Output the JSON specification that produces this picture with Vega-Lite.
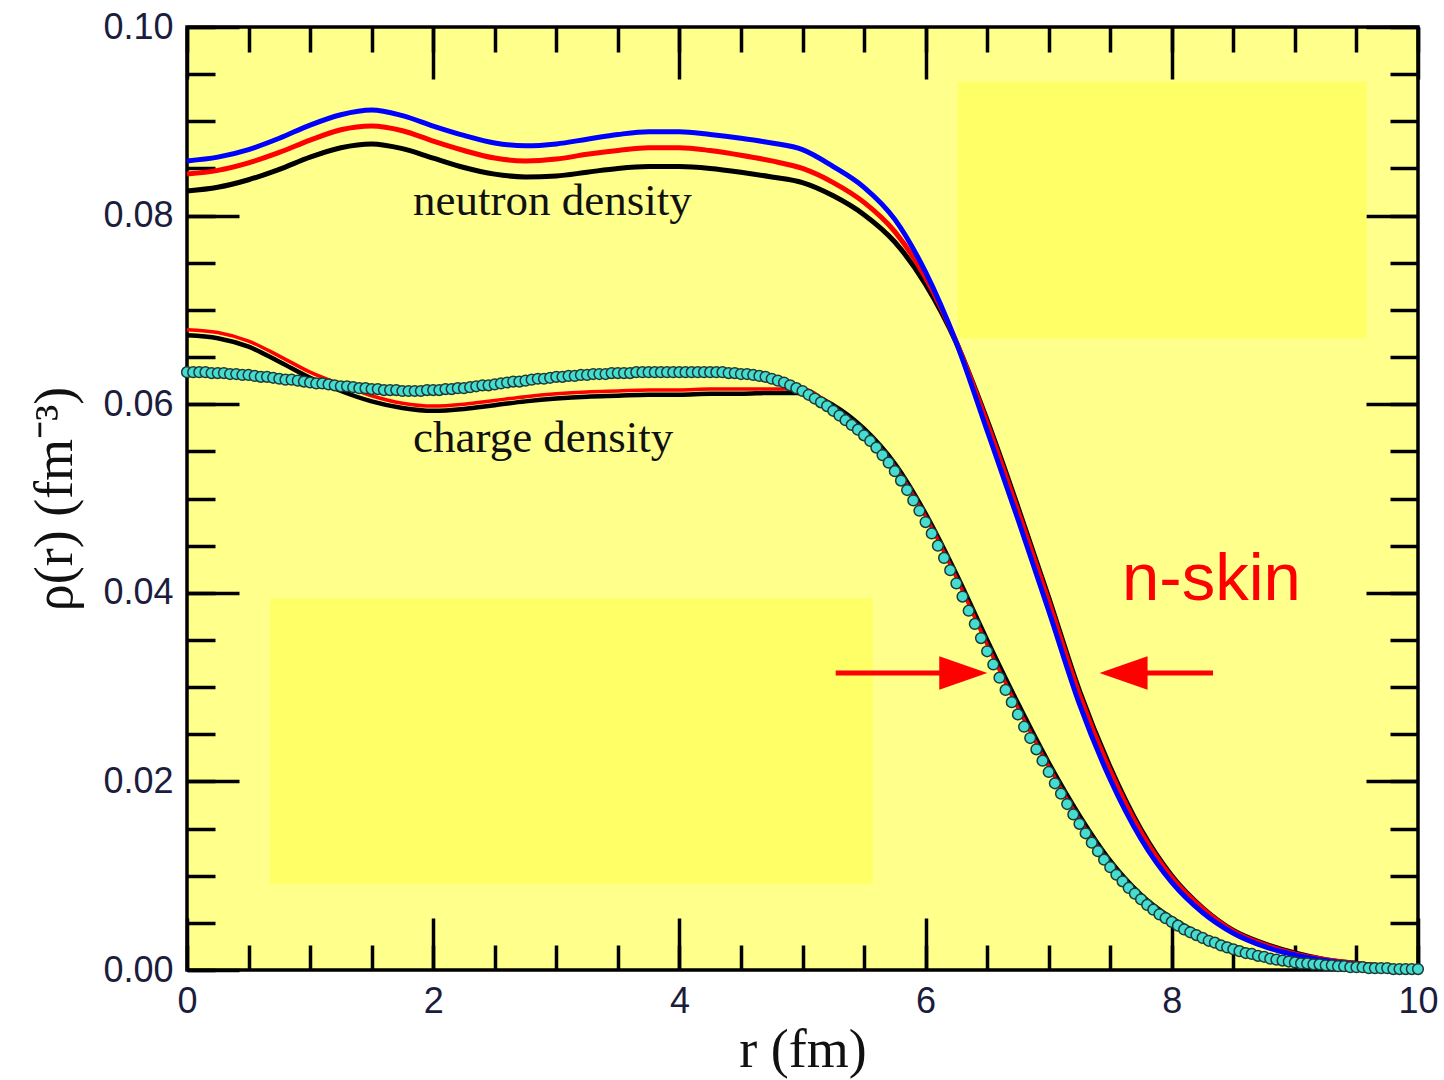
{
  "$schema": "https://vega.github.io/schema/vega-lite/v6.json",
  "width": 1231,
  "height": 943,
  "autosize": {"type": "none"},
  "padding": {"left": 187, "top": 27, "right": 26, "bottom": 110},
  "background": "white",
  "config": {
    "view": {"fill": "#FFFF8C", "stroke": "#000000", "strokeWidth": 3.5},
    "axis": {"grid": false, "domain": false, "zindex": 1, "tickColor": "#000000", "tickWidth": 3.5, "labelFlush": false, "labelOverlap": false}
  },
  "datasets": {
    "rects": [
      {"x1": 6.26, "x2": 9.58, "y1": 0.067, "y2": 0.0942},
      {"x1": 0.674, "x2": 5.57, "y1": 0.0091, "y2": 0.0394}
    ],
    "lines": [
      {"r": 0.00, "nk": 0.0826, "nr": 0.0844, "nb": 0.0858, "ck": 0.0673, "cr": 0.0679},
      {"r": 0.25, "nk": 0.0830, "nr": 0.0848, "nb": 0.0862, "ck": 0.0670, "cr": 0.0676},
      {"r": 0.50, "nk": 0.0838, "nr": 0.0856, "nb": 0.0870, "ck": 0.0661, "cr": 0.0667},
      {"r": 0.75, "nk": 0.0849, "nr": 0.0867, "nb": 0.0882, "ck": 0.0645, "cr": 0.0651},
      {"r": 1.00, "nk": 0.0862, "nr": 0.0880, "nb": 0.0896, "ck": 0.0628, "cr": 0.0634},
      {"r": 1.25, "nk": 0.0872, "nr": 0.0891, "nb": 0.0907, "ck": 0.0614, "cr": 0.0621},
      {"r": 1.50, "nk": 0.0876, "nr": 0.0895, "nb": 0.0912, "ck": 0.0603, "cr": 0.0609},
      {"r": 1.75, "nk": 0.0871, "nr": 0.0890, "nb": 0.0906, "ck": 0.0596, "cr": 0.0601},
      {"r": 2.00, "nk": 0.0861, "nr": 0.0879, "nb": 0.0895, "ck": 0.0593, "cr": 0.0598},
      {"r": 2.25, "nk": 0.0851, "nr": 0.0869, "nb": 0.0885, "ck": 0.0595, "cr": 0.0600},
      {"r": 2.50, "nk": 0.0844, "nr": 0.0861, "nb": 0.0877, "ck": 0.0599, "cr": 0.0604},
      {"r": 2.75, "nk": 0.0841, "nr": 0.0858, "nb": 0.0874, "ck": 0.0603, "cr": 0.0608},
      {"r": 3.00, "nk": 0.0842, "nr": 0.0860, "nb": 0.0876, "ck": 0.0606, "cr": 0.0611},
      {"r": 3.25, "nk": 0.0846, "nr": 0.0865, "nb": 0.0881, "ck": 0.0608, "cr": 0.0613},
      {"r": 3.50, "nk": 0.0850, "nr": 0.0869, "nb": 0.0886, "ck": 0.0609, "cr": 0.0614},
      {"r": 3.75, "nk": 0.0852, "nr": 0.0872, "nb": 0.0889, "ck": 0.0610, "cr": 0.0615},
      {"r": 4.00, "nk": 0.0852, "nr": 0.0872, "nb": 0.0889, "ck": 0.0610, "cr": 0.0615},
      {"r": 4.25, "nk": 0.0850, "nr": 0.0869, "nb": 0.0886, "ck": 0.0611, "cr": 0.0616},
      {"r": 4.50, "nk": 0.0846, "nr": 0.0864, "nb": 0.0882, "ck": 0.0611, "cr": 0.0616},
      {"r": 4.75, "nk": 0.0841, "nr": 0.0858, "nb": 0.0877, "ck": 0.0612, "cr": 0.0616},
      {"r": 5.00, "nk": 0.0835, "nr": 0.0850, "nb": 0.0870, "ck": 0.0612, "cr": 0.0616},
      {"r": 5.25, "nk": 0.0821, "nr": 0.0835, "nb": 0.0852, "ck": 0.0599, "cr": 0.0597},
      {"r": 5.50, "nk": 0.0801, "nr": 0.0814, "nb": 0.0830, "ck": 0.0574, "cr": 0.0571},
      {"r": 5.75, "nk": 0.0772, "nr": 0.0783, "nb": 0.0796, "ck": 0.0537, "cr": 0.0534},
      {"r": 6.00, "nk": 0.0727, "nr": 0.0734, "nb": 0.0740, "ck": 0.0484, "cr": 0.0481},
      {"r": 6.25, "nk": 0.0665, "nr": 0.0666, "nb": 0.0665, "ck": 0.0420, "cr": 0.0416},
      {"r": 6.50, "nk": 0.0583, "nr": 0.0580, "nb": 0.0572, "ck": 0.0350, "cr": 0.0345},
      {"r": 6.75, "nk": 0.0491, "nr": 0.0487, "nb": 0.0478, "ck": 0.0283, "cr": 0.0278},
      {"r": 7.00, "nk": 0.0395, "nr": 0.0391, "nb": 0.0381, "ck": 0.0220, "cr": 0.0216},
      {"r": 7.25, "nk": 0.0296, "nr": 0.0292, "nb": 0.0282, "ck": 0.0164, "cr": 0.0160},
      {"r": 7.50, "nk": 0.0215, "nr": 0.0211, "nb": 0.0202, "ck": 0.0116, "cr": 0.0113},
      {"r": 7.75, "nk": 0.0149, "nr": 0.0146, "nb": 0.0139, "ck": 0.0080, "cr": 0.0078},
      {"r": 8.00, "nk": 0.0100, "nr": 0.0098, "nb": 0.0093, "ck": 0.0055, "cr": 0.0053},
      {"r": 8.25, "nk": 0.0066, "nr": 0.0065, "nb": 0.0061, "ck": 0.0037, "cr": 0.0036},
      {"r": 8.50, "nk": 0.0042, "nr": 0.0041, "nb": 0.0039, "ck": 0.0025, "cr": 0.0024},
      {"r": 8.75, "nk": 0.0028, "nr": 0.0027, "nb": 0.0025, "ck": 0.0016, "cr": 0.0015},
      {"r": 9.00, "nk": 0.0018, "nr": 0.0017, "nb": 0.0016, "ck": 0.0010, "cr": 0.0009},
      {"r": 9.25, "nk": 0.0011, "nr": 0.0011, "nb": 0.0010, "ck": 0.0006, "cr": 0.0006},
      {"r": 9.50, "nk": 0.0007, "nr": 0.0007, "nb": 0.0006, "ck": 0.0004, "cr": 0.0004},
      {"r": 9.75, "nk": 0.0004, "nr": 0.0004, "nb": 0.0004, "ck": 0.0002, "cr": 0.0002},
      {"r": 10.00, "nk": 0.0003, "nr": 0.0003, "nb": 0.0003, "ck": 0.0001, "cr": 0.0001}
    ],
    "teal": [
      {"r": 0.00, "v": 0.0634}, {"r": 0.05, "v": 0.0634}, {"r": 0.10, "v": 0.0634}, {"r": 0.15, "v": 0.0634},
      {"r": 0.20, "v": 0.0633}, {"r": 0.25, "v": 0.0633}, {"r": 0.30, "v": 0.0633}, {"r": 0.35, "v": 0.0632},
      {"r": 0.40, "v": 0.0632}, {"r": 0.45, "v": 0.0631}, {"r": 0.50, "v": 0.0631}, {"r": 0.55, "v": 0.0630},
      {"r": 0.60, "v": 0.0629}, {"r": 0.65, "v": 0.0629}, {"r": 0.70, "v": 0.0628}, {"r": 0.75, "v": 0.0627},
      {"r": 0.80, "v": 0.0626}, {"r": 0.85, "v": 0.0626}, {"r": 0.90, "v": 0.0625}, {"r": 0.95, "v": 0.0624},
      {"r": 1.00, "v": 0.0623}, {"r": 1.05, "v": 0.0622}, {"r": 1.10, "v": 0.0622}, {"r": 1.15, "v": 0.0621},
      {"r": 1.20, "v": 0.0620}, {"r": 1.25, "v": 0.0619}, {"r": 1.30, "v": 0.0619}, {"r": 1.35, "v": 0.0618},
      {"r": 1.40, "v": 0.0617}, {"r": 1.45, "v": 0.0617}, {"r": 1.50, "v": 0.0616}, {"r": 1.55, "v": 0.0616},
      {"r": 1.60, "v": 0.0615}, {"r": 1.65, "v": 0.0615}, {"r": 1.70, "v": 0.0615}, {"r": 1.75, "v": 0.0614},
      {"r": 1.80, "v": 0.0614}, {"r": 1.85, "v": 0.0614}, {"r": 1.90, "v": 0.0614}, {"r": 1.95, "v": 0.0615},
      {"r": 2.00, "v": 0.0615}, {"r": 2.05, "v": 0.0615}, {"r": 2.10, "v": 0.0616}, {"r": 2.15, "v": 0.0616},
      {"r": 2.20, "v": 0.0617}, {"r": 2.25, "v": 0.0617}, {"r": 2.30, "v": 0.0618}, {"r": 2.35, "v": 0.0619},
      {"r": 2.40, "v": 0.0620}, {"r": 2.45, "v": 0.0620}, {"r": 2.50, "v": 0.0621}, {"r": 2.55, "v": 0.0622},
      {"r": 2.60, "v": 0.0623}, {"r": 2.65, "v": 0.0624}, {"r": 2.70, "v": 0.0624}, {"r": 2.75, "v": 0.0625},
      {"r": 2.80, "v": 0.0626}, {"r": 2.85, "v": 0.0627}, {"r": 2.90, "v": 0.0627}, {"r": 2.95, "v": 0.0628},
      {"r": 3.00, "v": 0.0629}, {"r": 3.05, "v": 0.0629}, {"r": 3.10, "v": 0.0630}, {"r": 3.15, "v": 0.0630},
      {"r": 3.20, "v": 0.0631}, {"r": 3.25, "v": 0.0631}, {"r": 3.30, "v": 0.0632}, {"r": 3.35, "v": 0.0632},
      {"r": 3.40, "v": 0.0632}, {"r": 3.45, "v": 0.0633}, {"r": 3.50, "v": 0.0633}, {"r": 3.55, "v": 0.0633},
      {"r": 3.60, "v": 0.0633}, {"r": 3.65, "v": 0.0634}, {"r": 3.70, "v": 0.0634}, {"r": 3.75, "v": 0.0634},
      {"r": 3.80, "v": 0.0634}, {"r": 3.85, "v": 0.0634}, {"r": 3.90, "v": 0.0634}, {"r": 3.95, "v": 0.0634},
      {"r": 4.00, "v": 0.0634}, {"r": 4.05, "v": 0.0634}, {"r": 4.10, "v": 0.0634}, {"r": 4.15, "v": 0.0634},
      {"r": 4.20, "v": 0.0634}, {"r": 4.25, "v": 0.0634}, {"r": 4.30, "v": 0.0634}, {"r": 4.35, "v": 0.0634},
      {"r": 4.40, "v": 0.0633}, {"r": 4.45, "v": 0.0633}, {"r": 4.50, "v": 0.0632}, {"r": 4.55, "v": 0.0632},
      {"r": 4.60, "v": 0.0631}, {"r": 4.65, "v": 0.0630}, {"r": 4.70, "v": 0.0629}, {"r": 4.75, "v": 0.0627},
      {"r": 4.80, "v": 0.0625}, {"r": 4.85, "v": 0.0623}, {"r": 4.90, "v": 0.0620}, {"r": 4.95, "v": 0.0617},
      {"r": 5.00, "v": 0.0614}, {"r": 5.05, "v": 0.0610}, {"r": 5.10, "v": 0.0606}, {"r": 5.15, "v": 0.0602},
      {"r": 5.20, "v": 0.0598}, {"r": 5.25, "v": 0.0593}, {"r": 5.30, "v": 0.0588}, {"r": 5.35, "v": 0.0583},
      {"r": 5.40, "v": 0.0578}, {"r": 5.45, "v": 0.0573}, {"r": 5.50, "v": 0.0567}, {"r": 5.55, "v": 0.0561},
      {"r": 5.60, "v": 0.0554}, {"r": 5.65, "v": 0.0546}, {"r": 5.70, "v": 0.0538}, {"r": 5.75, "v": 0.0529},
      {"r": 5.80, "v": 0.0519}, {"r": 5.85, "v": 0.0509}, {"r": 5.90, "v": 0.0498}, {"r": 5.95, "v": 0.0487},
      {"r": 6.00, "v": 0.0475}, {"r": 6.05, "v": 0.0463}, {"r": 6.10, "v": 0.0450}, {"r": 6.15, "v": 0.0437},
      {"r": 6.20, "v": 0.0424}, {"r": 6.25, "v": 0.0410}, {"r": 6.30, "v": 0.0396}, {"r": 6.35, "v": 0.0381},
      {"r": 6.40, "v": 0.0367}, {"r": 6.45, "v": 0.0352}, {"r": 6.50, "v": 0.0338}, {"r": 6.55, "v": 0.0324},
      {"r": 6.60, "v": 0.0310}, {"r": 6.65, "v": 0.0297}, {"r": 6.70, "v": 0.0284}, {"r": 6.75, "v": 0.0271},
      {"r": 6.80, "v": 0.0258}, {"r": 6.85, "v": 0.0246}, {"r": 6.90, "v": 0.0234}, {"r": 6.95, "v": 0.0222},
      {"r": 7.00, "v": 0.0210}, {"r": 7.05, "v": 0.0198}, {"r": 7.10, "v": 0.0187}, {"r": 7.15, "v": 0.0176},
      {"r": 7.20, "v": 0.0165}, {"r": 7.25, "v": 0.0155}, {"r": 7.30, "v": 0.0145}, {"r": 7.35, "v": 0.0135},
      {"r": 7.40, "v": 0.0126}, {"r": 7.45, "v": 0.0117}, {"r": 7.50, "v": 0.0109}, {"r": 7.55, "v": 0.0101},
      {"r": 7.60, "v": 0.0094}, {"r": 7.65, "v": 0.0087}, {"r": 7.70, "v": 0.0081}, {"r": 7.75, "v": 0.0075},
      {"r": 7.80, "v": 0.0069}, {"r": 7.85, "v": 0.0064}, {"r": 7.90, "v": 0.0059}, {"r": 7.95, "v": 0.0055},
      {"r": 8.00, "v": 0.0051}, {"r": 8.05, "v": 0.0047}, {"r": 8.10, "v": 0.0043}, {"r": 8.15, "v": 0.0040},
      {"r": 8.20, "v": 0.0037}, {"r": 8.25, "v": 0.0034}, {"r": 8.30, "v": 0.0031}, {"r": 8.35, "v": 0.0029},
      {"r": 8.40, "v": 0.0026}, {"r": 8.45, "v": 0.0024}, {"r": 8.50, "v": 0.0022}, {"r": 8.55, "v": 0.0020},
      {"r": 8.60, "v": 0.0018}, {"r": 8.65, "v": 0.0017}, {"r": 8.70, "v": 0.0015}, {"r": 8.75, "v": 0.0014},
      {"r": 8.80, "v": 0.0012}, {"r": 8.85, "v": 0.0011}, {"r": 8.90, "v": 0.0010}, {"r": 8.95, "v": 0.0009},
      {"r": 9.00, "v": 0.0008}, {"r": 9.05, "v": 0.0007}, {"r": 9.10, "v": 0.0007}, {"r": 9.15, "v": 0.0006},
      {"r": 9.20, "v": 0.0006}, {"r": 9.25, "v": 0.0005}, {"r": 9.30, "v": 0.0005}, {"r": 9.35, "v": 0.0004},
      {"r": 9.40, "v": 0.0004}, {"r": 9.45, "v": 0.0003}, {"r": 9.50, "v": 0.0003}, {"r": 9.55, "v": 0.0003},
      {"r": 9.60, "v": 0.0002}, {"r": 9.65, "v": 0.0002}, {"r": 9.70, "v": 0.0002}, {"r": 9.75, "v": 0.0002},
      {"r": 9.80, "v": 0.0001}, {"r": 9.85, "v": 0.0001}, {"r": 9.90, "v": 0.0001}, {"r": 9.95, "v": 0.0001},
      {"r": 10.00, "v": 0.0001}
    ],
    "labels": [
      {"r": 1.836, "v": 0.0801, "label": "neutron density"},
      {"r": 1.836, "v": 0.0549, "label": "charge density"}
    ],
    "skin": [
      {"r": 7.596, "v": 0.0392, "label": "n-skin"}
    ],
    "arrowlines": [
      {"x1": 5.27, "x2": 6.16, "y": 0.0315},
      {"x1": 7.74, "x2": 8.335, "y": 0.0315}
    ],
    "arrowheads": [
      {"x": 6.306, "y": 0.0315, "dir": "right"},
      {"x": 7.608, "y": 0.0315, "dir": "left"}
    ]
  },
  "resolve": {"axis": {"x": "independent", "y": "independent"}},
  "layer": [
    {
      "data": {"name": "rects"},
      "mark": {"type": "rect", "fill": "#FFFF66"},
      "encoding": {
        "x": {"field": "x1", "type": "quantitative", "scale": {"domain": [0, 10], "nice": false, "zero": false},
          "axis": {"orient": "bottom", "values": [0, 2, 4, 6, 8, 10], "tickSize": -52, "labelPadding": 66, "format": "d",
            "labelFont": "Liberation Sans", "labelFontSize": 36, "labelColor": "#1c1c3c",
            "title": "r (fm)", "titleFont": "Liberation Serif", "titleFontSize": 54, "titleFontWeight": "normal", "titleColor": "#111111", "titlePadding": 4}},
        "x2": {"field": "x2"},
        "y": {"field": "y1", "type": "quantitative", "scale": {"domain": [0, 0.1], "nice": false, "zero": false},
          "axis": {"orient": "left", "values": [0, 0.02, 0.04, 0.06, 0.08, 0.1], "tickSize": -52, "labelPadding": 66, "format": ".2f",
            "labelFont": "Liberation Sans", "labelFontSize": 36, "labelColor": "#1c1c3c",
            "title": "ρ(r) (fm⁻³)", "titleFont": "Liberation Serif", "titleFontSize": 54, "titleFontWeight": "normal", "titleColor": "#111111", "titlePadding": 20}},
        "y2": {"field": "y2"}
      }
    },
    {
      "data": {"name": "lines"},
      "mark": {"type": "line", "color": "#000000", "strokeWidth": 5, "interpolate": "monotone"},
      "encoding": {
        "x": {"field": "r", "type": "quantitative", "scale": {"domain": [0, 10], "nice": false, "zero": false},
          "axis": {"orient": "bottom", "values": [0, 0.5, 1, 1.5, 2, 2.5, 3, 3.5, 4, 4.5, 5, 5.5, 6, 6.5, 7, 7.5, 8, 8.5, 9, 9.5, 10], "tickSize": -25, "labels": false, "title": null}},
        "y": {"field": "nk", "type": "quantitative", "scale": {"domain": [0, 0.1], "nice": false, "zero": false},
          "axis": {"orient": "left", "values": [0, 0.005, 0.01, 0.015, 0.02, 0.025, 0.03, 0.035, 0.04, 0.045, 0.05, 0.055, 0.06, 0.065, 0.07, 0.075, 0.08, 0.085, 0.09, 0.095, 0.1], "tickSize": -28, "labels": false, "title": null}}
      }
    },
    {
      "data": {"name": "lines"},
      "mark": {"type": "line", "color": "#FF0000", "strokeWidth": 5, "interpolate": "monotone"},
      "encoding": {
        "x": {"field": "r", "type": "quantitative", "scale": {"domain": [0, 10], "nice": false, "zero": false},
          "axis": {"orient": "top", "values": [0, 2, 4, 6, 8, 10], "tickSize": -52, "labels": false, "title": null}},
        "y": {"field": "nr", "type": "quantitative", "scale": {"domain": [0, 0.1], "nice": false, "zero": false},
          "axis": {"orient": "right", "values": [0, 0.02, 0.04, 0.06, 0.08, 0.1], "tickSize": -52, "labels": false, "title": null}}
      }
    },
    {
      "data": {"name": "lines"},
      "mark": {"type": "line", "color": "#0000FF", "strokeWidth": 5, "interpolate": "monotone"},
      "encoding": {
        "x": {"field": "r", "type": "quantitative", "scale": {"domain": [0, 10], "nice": false, "zero": false},
          "axis": {"orient": "top", "values": [0, 0.5, 1, 1.5, 2, 2.5, 3, 3.5, 4, 4.5, 5, 5.5, 6, 6.5, 7, 7.5, 8, 8.5, 9, 9.5, 10], "tickSize": -25, "labels": false, "title": null}},
        "y": {"field": "nb", "type": "quantitative", "scale": {"domain": [0, 0.1], "nice": false, "zero": false},
          "axis": {"orient": "right", "values": [0, 0.005, 0.01, 0.015, 0.02, 0.025, 0.03, 0.035, 0.04, 0.045, 0.05, 0.055, 0.06, 0.065, 0.07, 0.075, 0.08, 0.085, 0.09, 0.095, 0.1], "tickSize": -28, "labels": false, "title": null}}
      }
    },
    {
      "data": {"name": "lines"},
      "mark": {"type": "line", "color": "#000000", "strokeWidth": 4.5, "interpolate": "monotone"},
      "encoding": {
        "x": {"field": "r", "type": "quantitative", "scale": {"domain": [0, 10], "nice": false, "zero": false}, "axis": null},
        "y": {"field": "ck", "type": "quantitative", "scale": {"domain": [0, 0.1], "nice": false, "zero": false}, "axis": null}
      }
    },
    {
      "data": {"name": "lines"},
      "mark": {"type": "line", "color": "#FF0000", "strokeWidth": 3.5, "interpolate": "monotone"},
      "encoding": {
        "x": {"field": "r", "type": "quantitative", "scale": {"domain": [0, 10], "nice": false, "zero": false}, "axis": null},
        "y": {"field": "cr", "type": "quantitative", "scale": {"domain": [0, 0.1], "nice": false, "zero": false}, "axis": null}
      }
    },
    {
      "data": {"name": "teal"},
      "mark": {"type": "point", "shape": "circle", "filled": true, "fill": "#44DDD0", "stroke": "#1E3A38", "strokeWidth": 1.5, "size": 115, "opacity": 1},
      "encoding": {
        "x": {"field": "r", "type": "quantitative", "scale": {"domain": [0, 10], "nice": false, "zero": false}, "axis": null},
        "y": {"field": "v", "type": "quantitative", "scale": {"domain": [0, 0.1], "nice": false, "zero": false}, "axis": null}
      }
    },
    {
      "data": {"name": "labels"},
      "mark": {"type": "text", "font": "Liberation Serif", "fontSize": 45, "color": "#111111", "align": "left", "baseline": "alphabetic"},
      "encoding": {
        "x": {"field": "r", "type": "quantitative", "scale": {"domain": [0, 10], "nice": false, "zero": false}, "axis": null},
        "y": {"field": "v", "type": "quantitative", "scale": {"domain": [0, 0.1], "nice": false, "zero": false}, "axis": null},
        "text": {"field": "label"}
      }
    },
    {
      "data": {"name": "skin"},
      "mark": {"type": "text", "font": "Liberation Sans", "fontSize": 67, "color": "#FF0000", "align": "left", "baseline": "alphabetic"},
      "encoding": {
        "x": {"field": "r", "type": "quantitative", "scale": {"domain": [0, 10], "nice": false, "zero": false}, "axis": null},
        "y": {"field": "v", "type": "quantitative", "scale": {"domain": [0, 0.1], "nice": false, "zero": false}, "axis": null},
        "text": {"field": "label"}
      }
    },
    {
      "data": {"name": "arrowlines"},
      "mark": {"type": "rule", "color": "#FF0000", "strokeWidth": 5},
      "encoding": {
        "x": {"field": "x1", "type": "quantitative", "scale": {"domain": [0, 10], "nice": false, "zero": false}, "axis": null},
        "x2": {"field": "x2"},
        "y": {"field": "y", "type": "quantitative", "scale": {"domain": [0, 0.1], "nice": false, "zero": false}, "axis": null}
      }
    },
    {
      "data": {"name": "arrowheads"},
      "mark": {"type": "point", "filled": true, "color": "#FF0000", "opacity": 1, "size": 2304},
      "encoding": {
        "x": {"field": "x", "type": "quantitative", "scale": {"domain": [0, 10], "nice": false, "zero": false}, "axis": null},
        "y": {"field": "y", "type": "quantitative", "scale": {"domain": [0, 0.1], "nice": false, "zero": false}, "axis": null},
        "shape": {"field": "dir", "type": "nominal", "scale": {"domain": ["right", "left"], "range": ["M-1,-0.7L1,0L-1,0.7Z", "M1,-0.7L-1,0L1,0.7Z"]}, "legend": null}
      }
    }
  ]
}
